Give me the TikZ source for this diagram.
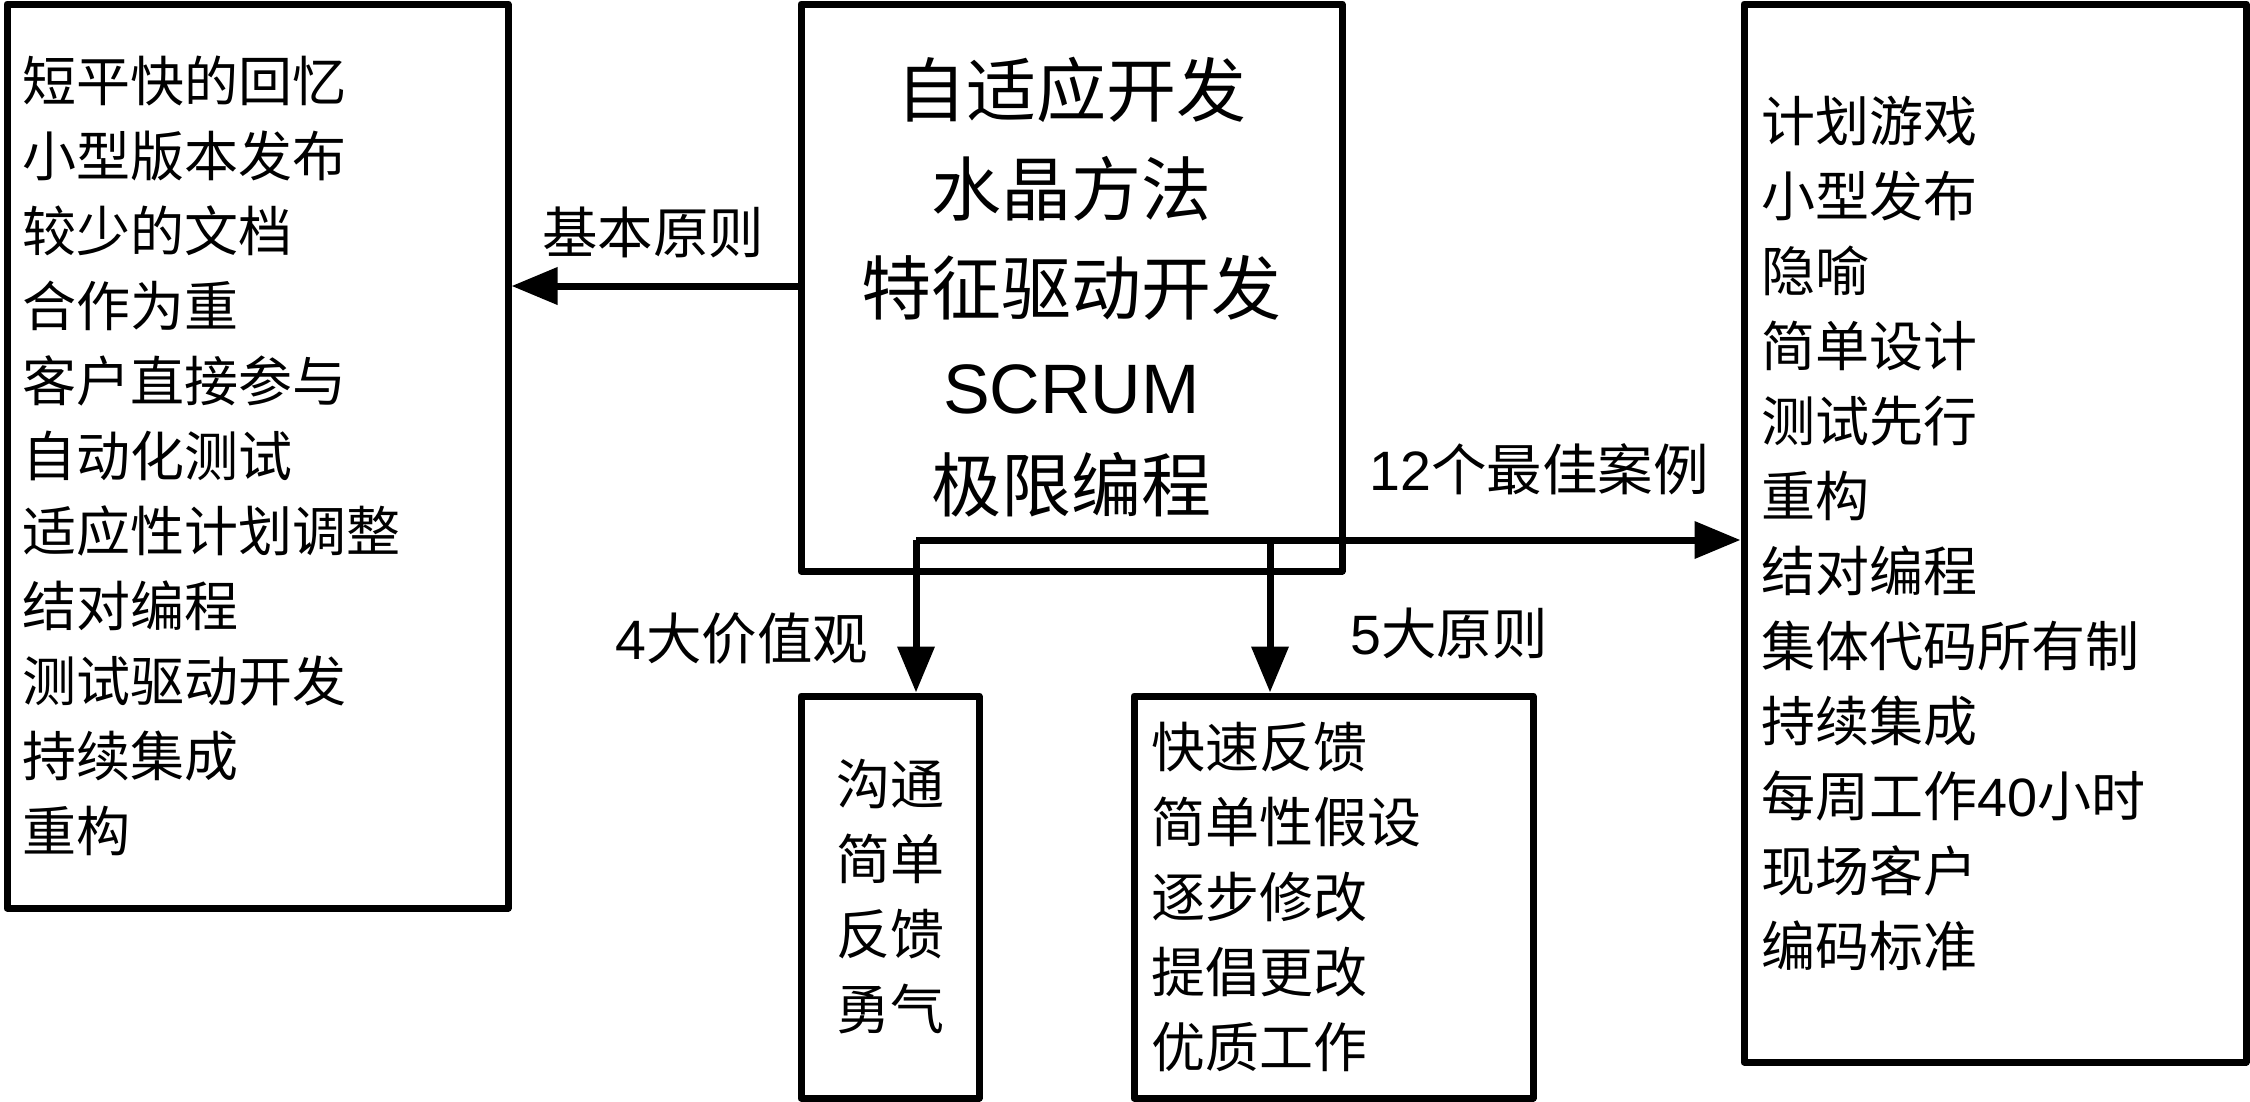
\documentclass[tikz,border=0pt]{standalone}
\usepackage{fontspec}
\setmainfont{Noto Sans CJK SC}
\newfontfamily\lat{Liberation Sans}
\usetikzlibrary{arrows.meta}
\begin{document}
\begin{tikzpicture}[x=1pt,y=-1pt,
  box/.style={draw,line width=7pt,line join=round,inner ysep=0pt,font=\fontsize{54}{75}\selectfont},
  lbl/.style={font=\fontsize{55.5}{60}\selectfont,inner sep=0pt},
  conn/.style={line width=7pt,-{Triangle[length=46pt,width=36pt]}}]
\useasboundingbox (0,0) rectangle (2250,1101);
\node[box,minimum width=501pt,minimum height=904pt,text width=471pt,inner xsep=15pt,align=left] (lb) at (257.5,456)
 {短平快的回忆\\小型版本发布\\较少的文档\\合作为重\\客户直接参与\\自动化测试\\适应性计划调整\\结对编程\\测试驱动开发\\持续集成\\重构};
\node[box,minimum width=541pt,minimum height=567pt,align=center,font=\fontsize{70}{98.7}\selectfont] (cb) at (1071.5,287.5)
 {自适应开发\\水晶方法\\特征驱动开发\\{\lat SCRUM}\\极限编程};
\node[box,minimum width=502pt,minimum height=1058pt,text width=468pt,inner xsep=17pt,align=left] (rb) at (1995,533)
 {计划游戏\\小型发布\\隐喻\\简单设计\\测试先行\\重构\\结对编程\\集体代码所有制\\持续集成\\每周工作{\lat 40}小时\\现场客户\\编码标准};
\node[box,minimum width=178pt,minimum height=402pt,align=center,inner xsep=0pt] (vb) at (890,897)
 {沟通\\简单\\反馈\\勇气};
\node[box,minimum width=399pt,minimum height=402pt,text width=365pt,inner xsep=17pt,align=left] (pb) at (1333.5,897)
 {快速反馈\\简单性假设\\逐步修改\\提倡更改\\优质工作};
\coordinate (j1) at (916,540);
\coordinate (j2) at (1270,540);
\coordinate (ls) at (801,286);
\draw[conn] (ls) -- (ls -| lb.east);
\draw[conn] (j1) -- (j1 -| rb.west);
\draw[conn] (j1) -- (j1 |- vb.north);
\draw[conn] (j2) -- (j2 |- pb.north);
\node[lbl] (l1) at (653,232) {基本原则};
\node[lbl] (l2) at (1539,469) {{\lat 12}个最佳案例};
\node[lbl] (l3) at (742,639) {{\lat 4}大价值观};
\node[lbl] (l4) at (1449,633) {{\lat 5}大原则};
\end{tikzpicture}
\end{document}
